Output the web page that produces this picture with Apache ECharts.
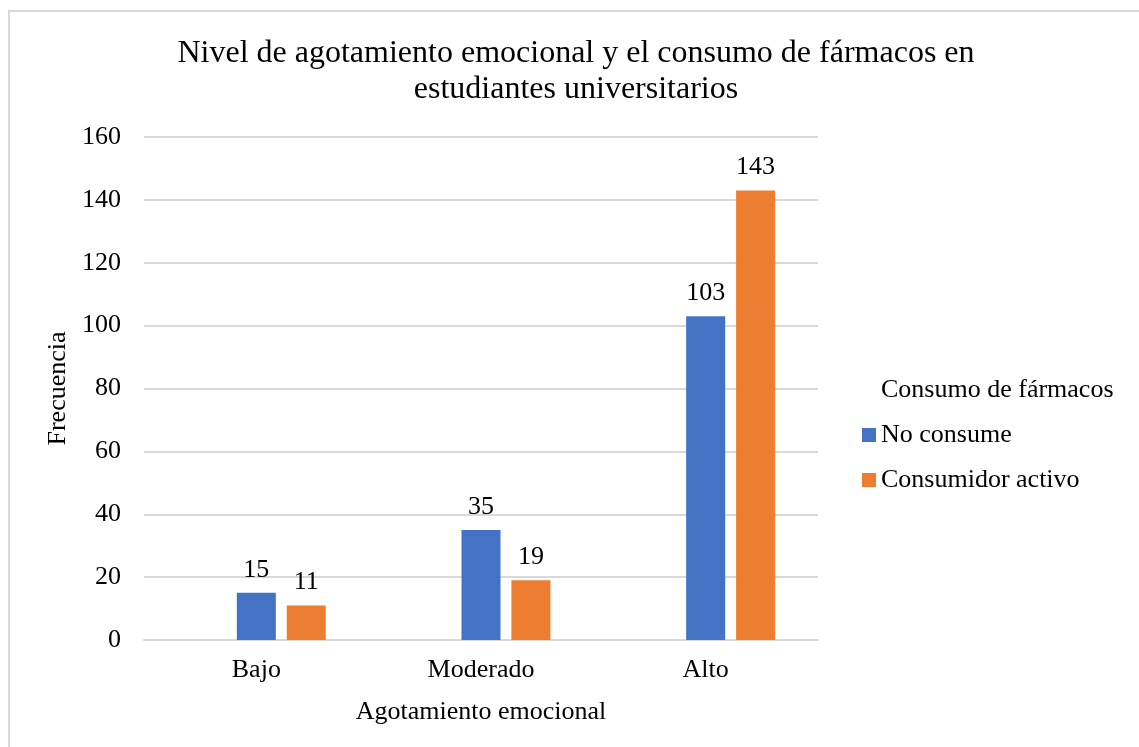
<!DOCTYPE html>
<html>
<head>
<meta charset="utf-8">
<script src="https://cdn.jsdelivr.net/npm/echarts@6/dist/echarts.min.js"></script>
<style>
	html,body{margin:0;padding:0;background:#fff;}
	#frame{position:absolute;left:8px;top:10px;width:1300px;height:900px;border:2px solid #d9d9d9;box-sizing:border-box;}
	#chart{position:absolute;left:0;top:0;width:1139px;height:747px;}
</style>
</head>
<body>
<div id="frame"></div>
<div id="chart"></div>
<script>
	// datos
	var categorias = ['Bajo', 'Moderado', 'Alto'];
	var tituloLeyenda = 'Consumo de fármacos';
	var noConsume = [15, 35, 103];
	var consumidorActivo = [11, 19, 143];
	var vacio = [null, null, null];

	var fuente = "'Liberation Serif', 'Times New Roman', serif";
	var chart = echarts.init(document.getElementById('chart'));

	var etiqueta = {
		show: true,
		position: 'top',
		distance: 10,
		color: '#000',
		fontFamily: fuente,
		fontSize: 26
	};

	var option = {
		animation: false,
		textStyle: { fontFamily: fuente, color: '#000' },
		title: {
			text: 'Nivel de agotamiento emocional y el consumo de fármacos en\nestudiantes universitarios',
			left: 571,
			textAlign: 'center',
			top: 31,
			textStyle: {
				fontFamily: fuente,
				fontSize: 32,
				fontWeight: 'normal',
				color: '#000',
				lineHeight: 36
			}
		},
		legend: {
			orient: 'vertical',
			left: 857,
			top: 372,
			itemWidth: 14,
			itemHeight: 14,
			itemGap: 19,
			data: [
				{ name: tituloLeyenda, icon: 'none' },
				{ name: 'No consume', icon: 'rect' },
				{ name: 'Consumidor activo', icon: 'rect' }
			],
			textStyle: { fontFamily: fuente, fontSize: 26, color: '#000', lineHeight: 26 }
		},
		grid: { left: 144, right: 321, top: 137, bottom: 107 },
		xAxis: {
			type: 'category',
			data: categorias,
			name: 'Agotamiento emocional',
			nameLocation: 'middle',
			nameGap: 59,
			nameTextStyle: { fontFamily: fuente, fontSize: 26, color: '#000' },
			axisLine: { lineStyle: { color: '#d9d9d9', width: 2 } },
			axisTick: { show: false },
			axisLabel: { margin: 17, fontFamily: fuente, fontSize: 26, color: '#000' }
		},
		yAxis: {
			type: 'value',
			min: 0,
			max: 160,
			interval: 20,
			name: 'Frecuencia',
			nameLocation: 'middle',
			nameGap: 72,
			nameRotate: 90,
			nameTextStyle: { fontFamily: fuente, fontSize: 26, color: '#000' },
			axisLine: { show: false },
			axisTick: { show: false },
			axisLabel: { margin: 23, fontFamily: fuente, fontSize: 26, color: '#000' },
			splitLine: { lineStyle: { color: '#d9d9d9', width: 2 } }
		},
		series: [
			{
				name: tituloLeyenda,
				type: 'bar',
				barWidth: 39,
				barGap: '28%',
				data: vacio,
				itemStyle: { color: '#ffffff' }
			},
			{
				name: 'No consume',
				type: 'bar',
				barWidth: 39,
				barGap: '28%',
				data: noConsume,
				itemStyle: { color: '#4472C4' },
				label: etiqueta
			},
			{
				name: 'Consumidor activo',
				type: 'bar',
				barWidth: 39,
				barGap: '28%',
				data: consumidorActivo,
				itemStyle: { color: '#ED7D31' },
				label: etiqueta
			}
		]
	};
	chart.setOption(option);
</script>
</body>
</html>
